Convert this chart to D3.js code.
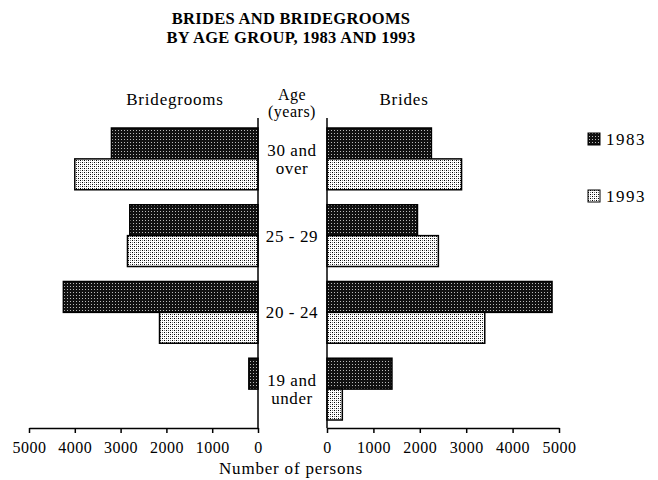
<!DOCTYPE html>
<html>
<head>
<meta charset="utf-8">
<script src="https://cdn.jsdelivr.net/npm/d3@7"></script>
<style>
  body { margin: 0; background: #fff; }
  text { font-family: "Liberation Serif", "DejaVu Serif", serif; fill: #000; }
</style>
</head>
<body>
<svg id="chart" width="658" height="480"></svg>
<script>
// data
var ageGroups = ['30 and over', '25 - 29', '20 - 24', '19 and under'],
    ageLines = [['30 and', 'over'], ['25 - 29'], ['20 - 24'], ['19 and', 'under']],
    years = ['1983', '1993'],
    grooms1983 = [3200, 2800, 4250, 200],
    grooms1993 = [4000, 2850, 2150, 0],
    brides1983 = [2250, 1950, 4850, 1400],
    brides1993 = [2900, 2400, 3400, 330],
    tickValues = [0, 1000, 2000, 3000, 4000, 5000];

var svg = d3.select('#chart'),
    axisY = 428;

// fill patterns for the two years
var defs = svg.append('defs');
var dark = defs.append('pattern').attr('id', 'p1983')
    .attr('width', 3).attr('height', 3).attr('patternUnits', 'userSpaceOnUse');
dark.append('rect').attr('width', 3).attr('height', 3).attr('fill', '#111');
dark.append('rect').attr('x', 1).attr('y', 1).attr('width', 1).attr('height', 1).attr('fill', '#bbb');

var light = defs.append('pattern').attr('id', 'p1993')
    .attr('width', 4).attr('height', 4).attr('patternUnits', 'userSpaceOnUse');
light.append('rect').attr('width', 4).attr('height', 4).attr('fill', '#fff');
light.append('rect').attr('x', 0).attr('y', 0).attr('width', 1).attr('height', 1).attr('fill', '#000');
light.append('rect').attr('x', 2).attr('y', 2).attr('width', 1).attr('height', 1).attr('fill', '#000');
light.append('rect').attr('x', 2).attr('y', 0).attr('width', 1).attr('height', 1).attr('fill', '#777');
light.append('rect').attr('x', 0).attr('y', 2).attr('width', 1).attr('height', 1).attr('fill', '#777');

var fillFor = { '1983': 'url(#p1983)', '1993': 'url(#p1993)' };

// scales
var y = d3.scaleBand().domain(ageGroups).range([128, 420]).paddingInner(0.195),
    ySub = d3.scaleBand().domain(years).range([0, y.bandwidth()]),
    xLeft = d3.scaleLinear().domain([0, 5000]).range([258, 29]),
    xRight = d3.scaleLinear().domain([0, 5000]).range([327, 559]);

function label(x, yy, t, size, spacing) {
    return svg.append('text').attr('x', x).attr('y', yy).attr('text-anchor', 'middle')
        .style('font-size', size + 'px').style('letter-spacing', (spacing || 0) + 'px').text(t);
}

// title
label(291, 24, 'BRIDES AND BRIDEGROOMS', 16.5, 0.3).style('font-weight', 'bold');
label(291, 43, 'BY AGE GROUP, 1983 AND 1993', 16.5, 0.3).style('font-weight', 'bold');

// column headers
label(175, 105, 'Bridegrooms', 17, 0.8);
label(404, 105, 'Brides', 17, 0.8);
label(292, 100, 'Age', 16, 0.5);
label(292, 117, '(years)', 16, 0.5);

// bars
function drawSide(x, v1983, v1993, left) {
    var rows = [];
    ageGroups.forEach(function(g, i) {
        rows.push({ age: g, year: '1983', value: v1983[i] });
        rows.push({ age: g, year: '1993', value: v1993[i] });
    });
    svg.append('g').selectAll('rect')
        .data(rows.filter(function(d) { return d.value > 0; }))
        .enter().append('rect')
        .attr('x', function(d) { return left ? x(d.value) : x(0); })
        .attr('y', function(d) { return y(d.age) + ySub(d.year); })
        .attr('width', function(d) { return Math.abs(x(d.value) - x(0)); })
        .attr('height', ySub.bandwidth())
        .attr('fill', function(d) { return fillFor[d.year]; })
        .attr('stroke', '#000')
        .attr('stroke-width', 1.5);
}
drawSide(xLeft, grooms1983, grooms1993, true);
drawSide(xRight, brides1983, brides1993, false);

// vertical base lines
svg.append('line').attr('x1', xLeft(0)).attr('x2', xLeft(0)).attr('y1', 118).attr('y2', axisY)
    .attr('stroke', '#000').attr('stroke-width', 1.5);
svg.append('line').attr('x1', xRight(0)).attr('x2', xRight(0)).attr('y1', 118).attr('y2', axisY)
    .attr('stroke', '#000').attr('stroke-width', 1.5);

// age labels
ageGroups.forEach(function(g, i) {
    var lines = ageLines[i],
        cy = y(g) + y.bandwidth() / 2 + 6 - (lines.length - 1) * 9;
    lines.forEach(function(t, j) {
        label(292, cy + j * 18, t, 17, 0.6);
    });
});

// axes
function styleAxis(g) {
    g.select('.domain').attr('stroke-width', 1.5);
    g.selectAll('.tick line').attr('stroke-width', 1.5);
    g.selectAll('.tick text').style('font-family', '"Liberation Serif", serif')
        .style('font-size', '16px').style('letter-spacing', '0.5px')
        .attr('y', 14).attr('dy', '0.71em');
}
svg.append('g').attr('transform', 'translate(0,' + axisY + ')')
    .call(d3.axisBottom(xLeft).tickValues(tickValues).tickFormat(d3.format('d')).tickSize(5).tickSizeOuter(0))
    .call(styleAxis);
svg.append('g').attr('transform', 'translate(0,' + axisY + ')')
    .call(d3.axisBottom(xRight).tickValues(tickValues).tickFormat(d3.format('d')).tickSize(5).tickSizeOuter(0))
    .call(styleAxis);

label(291, 474, 'Number of persons', 17, 0.8);

// legend
years.forEach(function(yr, i) {
    var ly = 133 + i * 57;
    svg.append('rect').attr('x', 588).attr('y', ly).attr('width', 12).attr('height', 12)
        .attr('fill', fillFor[yr]).attr('stroke', '#000').attr('stroke-width', 1);
    svg.append('text').attr('x', 606).attr('y', ly + 12)
        .style('font-size', '17px').style('letter-spacing', '1.5px').text(yr);
});
</script>
</body>
</html>
